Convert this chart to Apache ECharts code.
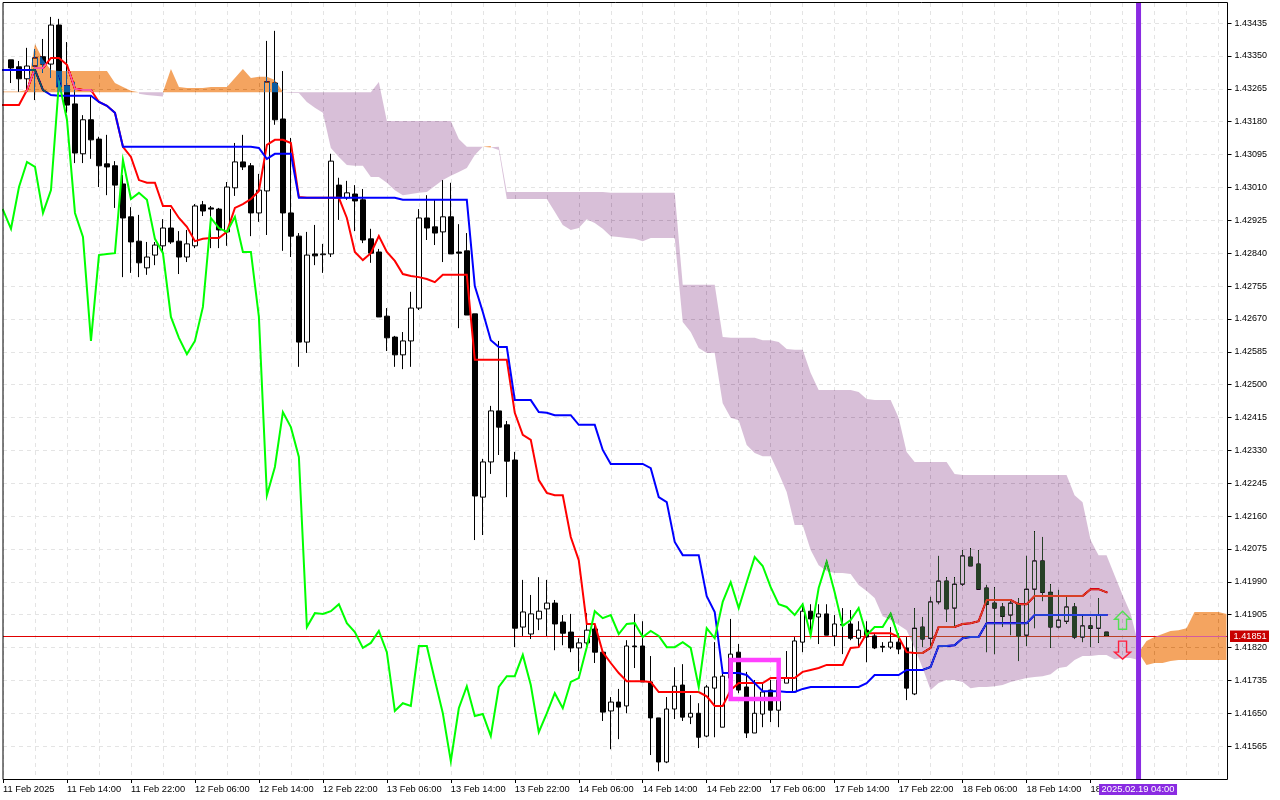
<!DOCTYPE html>
<html>
<head>
<meta charset="utf-8">
<style>html,body{margin:0;padding:0;background:#fff}#c{width:1280px;height:800px}</style>
<script src="https://cdn.jsdelivr.net/npm/echarts@6/dist/echarts.min.js"></script>
</head>
<body>
<div id="c"></div>
<script>
const tickLabels = ['11 Feb 2025','11 Feb 14:00','11 Feb 22:00','12 Feb 06:00','12 Feb 14:00','12 Feb 22:00','13 Feb 06:00','13 Feb 14:00','13 Feb 22:00','14 Feb 06:00','14 Feb 14:00','14 Feb 22:00','17 Feb 06:00','17 Feb 14:00','17 Feb 22:00','18 Feb 06:00','18 Feb 14:00','18 Feb 22:00'];
const priceTicks = [1.41565,1.41650,1.41735,1.41820,1.41905,1.41990,1.42075,1.42160,1.42245,1.42330,1.42415,1.42500,1.42585,1.42670,1.42755,1.42840,1.42925,1.43010,1.43095,1.43180,1.43265,1.43350,1.43435];
const lastPrice = 1.41851;
const markerLabel = '2025.02.19 04:00';
const slotCount = 154;

const opens = [null,1.43340,1.43322,1.43291,1.43324,1.43348,1.43329,1.43430,1.43273,1.43226,1.43097,1.43185,1.43135,1.43071,1.43066,1.43019,1.42934,1.42871,1.42802,1.42835,1.42859,1.42905,1.42871,1.42830,1.42859,1.42965,1.42957,1.42954,1.42895,1.43009,1.43076,1.43066,1.42944,1.43001,1.43280,1.43187,1.42944,1.42884,1.42610,1.42838,1.42836,1.42838,1.43016,1.42983,1.42993,1.42978,1.42877,1.42843,1.42677,1.42623,1.42577,1.42613,1.42698,1.42931,1.42908,1.42895,1.42934,1.42843,1.42846,1.42683,1.42209,1.42300,1.42432,1.42396,1.42305,1.41873,1.41855,1.41894,1.41920,1.41935,1.41886,1.41860,1.41819,1.41832,1.41868,1.41808,1.41656,1.41679,1.41669,1.41824,1.41824,1.41731,1.41638,1.41524,1.41661,1.41723,1.41640,1.41650,1.41591,1.41715,1.41614,1.41741,1.41808,1.41718,1.41599,1.41648,1.41710,1.41658,1.41728,1.41705,1.41834,1.41914,1.41899,1.41907,1.41850,1.41878,1.41881,1.41844,1.41865,1.41850,1.41823,1.41821,1.41834,1.41819,1.41700,1.41873,1.41844,1.41938,1.41992,1.41922,1.41984,1.42054,1.42036,1.41974,1.41935,1.41925,1.41904,1.41932,1.41852,1.41971,1.42044,1.41963,1.41873,1.41888,1.41925,1.41847,1.41876,1.41870,1.41860];
const closes = [null,1.43319,1.43291,1.43324,1.43345,1.43329,1.43430,1.43270,1.43223,1.43099,1.43185,1.43133,1.43066,1.43063,1.43016,1.42931,1.42869,1.42815,1.42830,1.42861,1.42905,1.42869,1.42830,1.42864,1.42962,1.42949,1.42954,1.42900,1.43011,1.43076,1.43063,1.42944,1.43003,1.43283,1.43185,1.42944,1.42884,1.42610,1.42835,1.42833,1.42838,1.43078,1.42983,1.42996,1.42975,1.42874,1.42840,1.42675,1.42621,1.42577,1.42613,1.42698,1.42931,1.42905,1.42892,1.42934,1.42838,1.42840,1.42680,1.42212,1.42300,1.42432,1.42390,1.42302,1.41870,1.41912,1.41907,1.41914,1.41935,1.41881,1.41857,1.41819,1.41832,1.41865,1.41808,1.41653,1.41679,1.41666,1.41824,1.41822,1.41731,1.41638,1.41524,1.41661,1.41720,1.41640,1.41650,1.41588,1.41718,1.41744,1.41746,1.41803,1.41710,1.41599,1.41650,1.41705,1.41658,1.41736,1.41741,1.41837,1.41914,1.41894,1.41907,1.41852,1.41881,1.41880,1.41844,1.41865,1.41847,1.41819,1.41821,1.41834,1.41816,1.41715,1.41870,1.41842,1.41938,1.41992,1.41920,1.41984,1.42057,1.42031,1.41971,1.41932,1.41922,1.41901,1.41935,1.41850,1.41971,1.42044,1.41963,1.41873,1.41891,1.41925,1.41847,1.41876,1.41870,1.41904,1.41851];
const lows = [null,1.43280,1.43257,1.43257,1.43236,1.43306,1.43293,1.43249,1.43203,1.43073,1.43073,1.43084,1.43011,1.42990,1.42957,1.42778,1.42789,1.42778,1.42784,1.42809,1.42838,1.42864,1.42786,1.42817,1.42853,1.42936,1.42853,1.42853,1.42859,1.42988,1.43055,1.42884,1.42921,1.42887,1.43172,1.42846,1.42830,1.42546,1.42582,1.42809,1.42789,1.42830,1.42926,1.42978,1.42897,1.42866,1.42815,1.42675,1.42587,1.42546,1.42540,1.42546,1.42693,1.42874,1.42861,1.42817,1.42838,1.42646,1.42680,1.42098,1.42111,1.42269,1.42318,1.42209,1.41821,1.41850,1.41842,1.41865,1.41850,1.41813,1.41826,1.41808,1.41759,1.41826,1.41780,1.41630,1.41557,1.41583,1.41650,1.41767,1.41731,1.41542,1.41500,1.41521,1.41635,1.41630,1.41622,1.41560,1.41588,1.41588,1.41614,1.41736,1.41702,1.41586,1.41599,1.41614,1.41627,1.41614,1.41728,1.41705,1.41808,1.41852,1.41829,1.41852,1.41824,1.41803,1.41839,1.41819,1.41782,1.41816,1.41808,1.41816,1.41803,1.41684,1.41697,1.41821,1.41819,1.41932,1.41886,1.41873,1.41979,1.42031,1.41971,1.41808,1.41803,1.41873,1.41852,1.41785,1.41824,1.41870,1.41940,1.41819,1.41870,1.41881,1.41842,1.41834,1.41821,1.41832,1.41851];
const highs = [null,1.43340,1.43337,1.43371,1.43368,1.43394,1.43451,1.43446,1.43386,1.43283,1.43197,1.43249,1.43141,1.43146,1.43078,1.43042,1.42959,1.42939,1.42869,1.42869,1.42928,1.42954,1.42897,1.42900,1.42967,1.42975,1.42962,1.42957,1.43024,1.43125,1.43146,1.43073,1.43045,1.43389,1.43415,1.43311,1.43138,1.42892,1.42895,1.42913,1.42864,1.43097,1.43035,1.43027,1.43016,1.43006,1.42903,1.42851,1.42698,1.42626,1.42636,1.42740,1.42954,1.42990,1.42978,1.43029,1.43022,1.42915,1.42892,1.42683,1.42308,1.42445,1.42613,1.42406,1.42326,1.41995,1.41956,1.42002,1.41995,1.41943,1.41904,1.41907,1.41844,1.41909,1.41878,1.41808,1.41692,1.41713,1.41839,1.41907,1.41888,1.41798,1.41638,1.41692,1.41769,1.41777,1.41697,1.41676,1.41723,1.41834,1.41767,1.41894,1.41829,1.41757,1.41736,1.41728,1.41736,1.41741,1.41811,1.41847,1.41935,1.41932,1.41932,1.41932,1.41904,1.41922,1.41917,1.41888,1.41888,1.41857,1.41834,1.41873,1.41857,1.41847,1.41922,1.41899,1.41951,1.42057,1.42002,1.42002,1.42072,1.42077,1.42072,1.41982,1.41976,1.41935,1.41943,1.41948,1.42057,1.42121,1.42106,1.41984,1.41969,1.41951,1.41935,1.41901,1.41899,1.41948,1.41860];

const tenkan = [1.43223,1.43223,1.43223,1.43262,1.43319,1.43319,1.43345,1.43345,1.43327,1.43265,1.43262,1.43262,1.43231,1.43221,1.43203,1.43115,1.43089,1.43029,1.43022,1.43022,1.42962,1.42962,1.42931,1.42908,1.42871,1.42877,1.42879,1.42879,1.42895,1.42957,1.42967,1.42980,1.43001,1.43120,1.43133,1.43133,1.43125,1.42985,1.42983,1.42983,1.42983,1.42983,1.42983,1.42931,1.42843,1.42822,1.42840,1.42884,1.42843,1.42820,1.42786,1.42781,1.42778,1.42773,1.42765,1.42784,1.42784,1.42784,1.42784,1.42564,1.42564,1.42564,1.42564,1.42564,1.42427,1.42370,1.42357,1.42253,1.42220,1.42214,1.42214,1.42106,1.42046,1.41881,1.41881,1.41808,1.41780,1.41754,1.41733,1.41733,1.41733,1.41731,1.41705,1.41705,1.41705,1.41705,1.41705,1.41705,1.41694,1.41669,1.41669,1.41710,1.41728,1.41728,1.41728,1.41728,1.41741,1.41741,1.41741,1.41741,1.41757,1.41762,1.41767,1.41775,1.41775,1.41775,1.41819,1.41821,1.41857,1.41857,1.41857,1.41857,1.41847,1.41808,1.41806,1.41806,1.41819,1.41873,1.41873,1.41873,1.41881,1.41883,1.41888,1.41943,1.41943,1.41943,1.41943,1.41932,1.41932,1.41953,1.41953,1.41953,1.41953,1.41953,1.41953,1.41953,1.41971,1.41971,1.41963];
const kijun = [1.43314,1.43314,1.43314,1.43314,1.43314,1.43262,1.43249,1.43247,1.43247,1.43247,1.43247,1.43247,1.43231,1.43221,1.43203,1.43115,1.43115,1.43115,1.43115,1.43115,1.43115,1.43115,1.43115,1.43115,1.43115,1.43115,1.43115,1.43115,1.43115,1.43115,1.43115,1.43115,1.43112,1.43084,1.43097,1.43097,1.43097,1.42983,1.42983,1.42983,1.42983,1.42983,1.42983,1.42983,1.42983,1.42983,1.42983,1.42983,1.42983,1.42983,1.42978,1.42978,1.42978,1.42978,1.42978,1.42978,1.42978,1.42978,1.42978,1.42755,1.42688,1.42615,1.42597,1.42597,1.42460,1.42460,1.42460,1.42429,1.42427,1.42421,1.42421,1.42421,1.42396,1.42396,1.42396,1.42331,1.42295,1.42295,1.42295,1.42295,1.42295,1.42284,1.42209,1.42196,1.42093,1.42059,1.42059,1.42059,1.41953,1.41912,1.41754,1.41754,1.41754,1.41749,1.41728,1.41707,1.41707,1.41707,1.41705,1.41705,1.41713,1.41718,1.41718,1.41718,1.41718,1.41718,1.41718,1.41718,1.41728,1.41749,1.41749,1.41749,1.41749,1.41762,1.41762,1.41762,1.41770,1.41824,1.41824,1.41826,1.41844,1.41847,1.41847,1.41883,1.41883,1.41883,1.41883,1.41883,1.41883,1.41904,1.41904,1.41904,1.41904,1.41904,1.41904,1.41904,1.41904,1.41904,1.41904];
const chikou = [1.42952,1.42903,1.43011,1.43076,1.43063,1.42944,1.43003,1.43283,1.43185,1.42944,1.42882,1.42613,1.42835,1.42838,1.42840,1.43081,1.42980,1.42996,1.42978,1.42877,1.42840,1.42675,1.42621,1.42579,1.42613,1.42701,1.42931,1.42905,1.42895,1.42934,1.42843,1.42843,1.42675,1.42214,1.42287,1.42429,1.42390,1.42313,1.41873,1.41909,1.41907,1.41914,1.41932,1.41883,1.41860,1.41819,1.41832,1.41863,1.41808,1.41656,1.41676,1.41669,1.41824,1.41824,1.41736,1.41650,1.41526,1.41663,1.41720,1.41643,1.41648,1.41591,1.41718,1.41746,1.41746,1.41801,1.41723,1.41601,1.41650,1.41702,1.41663,1.41731,1.41741,1.41821,1.41914,1.41896,1.41904,1.41855,1.41881,1.41883,1.41847,1.41863,1.41850,1.41821,1.41821,1.41834,1.41819,1.41718,1.41870,1.41844,1.41938,1.41989,1.41922,1.41989,1.42054,1.42031,1.41976,1.41932,1.41925,1.41904,1.41932,1.41852,1.41974,1.42041,1.41963,1.41876,1.41891,1.41922,1.41852,1.41873,1.41873,1.41907,1.41847];
const senkouA = [1.43258,1.43258,1.43258,1.43262,1.43381,1.43340,1.43314,1.43311,1.43311,1.43311,1.43311,1.43311,1.43311,1.43311,1.43280,1.43270,1.43260,1.43252,1.43249,1.43247,1.43245,1.43316,1.43270,1.43267,1.43267,1.43267,1.43270,1.43270,1.43270,1.43293,1.43316,1.43293,1.43296,1.43296,1.43288,1.43257,1.43254,1.43254,1.43231,1.43216,1.43203,1.43112,1.43089,1.43068,1.43066,1.43066,1.43037,1.43037,1.43022,1.43003,1.42990,1.42993,1.42996,1.42998,1.43014,1.43029,1.43040,1.43050,1.43060,1.43094,1.43115,1.43117,1.43107,1.42980,1.42980,1.42980,1.42980,1.42980,1.42980,1.42947,1.42913,1.42900,1.42905,1.42928,1.42918,1.42903,1.42884,1.42882,1.42879,1.42877,1.42871,1.42879,1.42879,1.42879,1.42879,1.42662,1.42636,1.42595,1.42582,1.42582,1.42452,1.42414,1.42408,1.42344,1.42323,1.42315,1.42315,1.42271,1.42222,1.42137,1.42137,1.42072,1.42033,1.42018,1.42013,1.42013,1.42010,1.41982,1.41966,1.41948,1.41901,1.41891,1.41878,1.41865,1.41819,1.41767,1.41710,1.41728,1.41736,1.41736,1.41731,1.41715,1.41718,1.41718,1.41720,1.41723,1.41731,1.41736,1.41741,1.41744,1.41746,1.41751,1.41767,1.41770,1.41788,1.41798,1.41798,1.41801,1.41801,1.41790,1.41793,1.41793,1.41788,1.41837,1.41847,1.41855,1.41863,1.41865,1.41870,1.41912,1.41912,1.41912,1.41912,1.41907];
const senkouB = [1.43256,1.43256,1.43256,1.43256,1.43256,1.43256,1.43256,1.43256,1.43256,1.43256,1.43256,1.43256,1.43256,1.43256,1.43256,1.43256,1.43256,1.43256,1.43256,1.43256,1.43256,1.43256,1.43256,1.43256,1.43256,1.43256,1.43256,1.43256,1.43256,1.43256,1.43256,1.43256,1.43256,1.43256,1.43256,1.43256,1.43256,1.43256,1.43256,1.43256,1.43256,1.43256,1.43256,1.43256,1.43256,1.43256,1.43256,1.43283,1.43182,1.43182,1.43182,1.43182,1.43182,1.43182,1.43182,1.43182,1.43182,1.43135,1.43115,1.43115,1.43115,1.43113,1.43115,1.42998,1.42998,1.42998,1.42998,1.42998,1.42998,1.42998,1.42998,1.42998,1.42998,1.42998,1.42998,1.42998,1.42996,1.42996,1.42996,1.42996,1.42996,1.42996,1.42996,1.42996,1.42996,1.42758,1.42758,1.42758,1.42758,1.42758,1.42623,1.42621,1.42621,1.42621,1.42621,1.42615,1.42615,1.42610,1.42592,1.42590,1.42590,1.42530,1.42486,1.42486,1.42486,1.42486,1.42486,1.42481,1.42463,1.42460,1.42460,1.42460,1.42414,1.42326,1.42300,1.42300,1.42300,1.42300,1.42300,1.42269,1.42266,1.42266,1.42266,1.42266,1.42266,1.42266,1.42266,1.42266,1.42266,1.42266,1.42266,1.42266,1.42266,1.42266,1.42214,1.42196,1.42098,1.42059,1.42059,1.42007,1.41956,1.41909,1.41826,1.41775,1.41780,1.41780,1.41785,1.41788,1.41788,1.41788,1.41788,1.41788,1.41788,1.41788];

// annotations
const boxStart = 91, boxEnd = 97, boxHigh = 1.41788, boxLow = 1.41687;
const markerIndex = 142;
const arrowIndex = 140, arrowUpTip = 1.41914, arrowDownTip = 1.41790;

const categories = Array.from({length: slotCount}, (_, i) => i);
const candleData = opens.map((o, i) => o === null ? '-' : [o, closes[i], lows[i], highs[i]]);

const FONT = '"Liberation Sans", Arial, sans-serif';
const GRID = '#e4e4e4';

// Inverted colours: painted with the "difference" blend they give the cloud colours on white
const CLOUD_UP = '#0b5b9f';   // shows as sandy orange
const CLOUD_DOWN = '#274027'; // shows as thistle

function cloudRuns(api) {
  const runs = [];
  let cur = null;
  const n = senkouA.length;
  for (let i = 0; i < n; i++) {
    const up = senkouA[i] >= senkouB[i];
    if (!cur || cur.up !== up) {
      if (cur) {
        const a0 = senkouA[i - 1], b0 = senkouB[i - 1], a1 = senkouA[i], b1 = senkouB[i];
        const t = (a0 - b0) / ((a0 - b0) - (a1 - b1));
        const mid = api.coord([i - 1 + t, a0 + (a1 - a0) * t]);
        cur.top.push(mid); cur = {up, top: [mid], bot: []};
      } else cur = {up, top: [], bot: []};
      runs.push(cur);
    }
    cur.top.push(api.coord([i, senkouA[i]]));
    cur.bot.push(api.coord([i, senkouB[i]]));
  }
  return runs;
}

function renderCloud(params, api) {
  if (params.dataIndex !== 0) return;
  return {
    type: 'group',
    children: cloudRuns(api).map(r => ({
      type: 'polygon',
      silent: true,
      shape: {points: r.top.concat(r.bot.slice().reverse())},
      style: {fill: r.up ? CLOUD_UP : CLOUD_DOWN}
    }))
  };
}

function renderPriceLine(params, api) {
  const cs = params.coordSys;
  const y = Math.round(api.coord([0, lastPrice])[1]) + 0.5;
  return {type: 'line', shape: {x1: cs.x, y1: y, x2: cs.x + cs.width + 1, y2: y}, style: {stroke: '#e00000', lineWidth: 1}};
}

function renderOverlay(params, api) {
  const cs = params.coordSys;
  const gridRight = cs.x + cs.width, gridBottom = cs.y + cs.height;
  const mx = api.coord([markerIndex, lastPrice])[0];
  const py = Math.round(api.coord([0, lastPrice])[1]) + 0.5;
  const b0 = api.coord([boxStart, boxHigh]), b1 = api.coord([boxEnd, boxLow]);
  const ax = api.coord([arrowIndex, arrowUpTip]);
  const dx = api.coord([arrowIndex, arrowDownTip]);
  const up = [[0,0],[8,8],[4,8],[4,18],[-4,18],[-4,8],[-8,8]].map(p => [ax[0] + p[0], ax[1] + p[1]]);
  const down = [[0,0],[8,-7],[4,-7],[4,-18],[-4,-18],[-4,-7],[-8,-7]].map(p => [dx[0] + p[0], dx[1] + p[1]]);
  return {
    type: 'group',
    children: [
      {type: 'rect', shape: {x: cs.x, y: 2.5, width: cs.width + 1, height: 777}, style: {fill: 'none', stroke: '#000', lineWidth: 1}},
      {type: 'polygon', shape: {points: up}, style: {fill: 'none', stroke: '#52e052', lineWidth: 1.4}},
      {type: 'polygon', shape: {points: down}, style: {fill: 'none', stroke: '#ff1f3c', lineWidth: 1.4}},
      {type: 'rect', shape: {x: b0[0], y: b0[1], width: b1[0] - b0[0], height: b1[1] - b0[1]},
        style: {fill: 'none', stroke: '#ff40ff', lineWidth: 4.5}},
      {type: 'rect', shape: {x: mx - 2.5, y: 3, width: 5, height: 776}, style: {fill: '#8a2be2'}},
      {type: 'rect', shape: {x: mx - 39.5, y: gridBottom + 5, width: 78, height: 11}, style: {fill: '#8a2be2'}},
      {type: 'text', style: {text: markerLabel, x: mx - 0.5, y: gridBottom + 10.5, fill: '#fff', font: '9.4px ' + FONT, textAlign: 'center', textVerticalAlign: 'middle'}},
      {type: 'rect', shape: {x: gridRight + 3.5, y: py - 6, width: 39, height: 11.5}, style: {fill: '#c80000'}},
      {type: 'text', style: {text: lastPrice.toFixed(5), x: gridRight + 7, y: py, fill: '#fff', font: '9.2px ' + FONT, textAlign: 'left', textVerticalAlign: 'middle'}}
    ]
  };
}

const lineOf = (data, color, z) => ({
  type: 'line', data, symbol: 'none', silent: true, z,
  lineStyle: {color, width: 2, cap: 'square', join: 'miter'}
});

const chart = echarts.init(document.getElementById('c'), null, {renderer: 'canvas', devicePixelRatio: 1});
chart.setOption({
  animation: false,
  backgroundColor: '#ffffff',
  tooltip: {show: false},
  grid: {left: 2.5, top: 3, width: 1224, height: 776, show: false, containLabel: false},
  xAxis: {
    type: 'category',
    data: categories,
    boundaryGap: false,
    axisLine: {show: false},
    axisTick: {show: true, length: 4, interval: i => i % 8 === 0 && i / 8 < tickLabels.length, lineStyle: {color: '#000'}},
    splitLine: {show: true, interval: i => i % 4 === 0, lineStyle: {color: GRID, type: [4, 4], width: 1}},
    axisLabel: {
      interval: i => i % 8 === 0 && i / 8 < tickLabels.length,
      formatter: (v, i) => tickLabels[i / 8] || '',
      color: '#000', fontFamily: FONT, fontSize: 9.3, align: 'left', margin: 5, padding: [1, 0, 0, 0]
    }
  },
  yAxis: {
    type: 'value',
    position: 'right',
    offset: 1,
    min: 1.4148,
    max: 1.43487,
    scale: true,
    axisLine: {show: false, onZero: false},
    axisTick: {show: true, length: 4, customValues: priceTicks, lineStyle: {color: '#000'}},
    splitLine: {show: true, lineStyle: {color: GRID, type: [4, 4], width: 1}},
    axisLabel: {
      customValues: priceTicks,
      formatter: v => v.toFixed(5),
      color: '#000', fontFamily: FONT, fontSize: 9, margin: 7
    }
  },
  series: [
    {type: 'custom', renderItem: renderPriceLine, data: [[0, lastPrice]], silent: true, z: 2},
    {
      type: 'candlestick', data: candleData, barWidth: 5, silent: true, z: 3,
      itemStyle: {color: '#ffffff', color0: '#000000', borderColor: '#000000', borderColor0: '#000000', borderWidth: 1}
    },
    lineOf(tenkan, '#ff0000', 4),
    lineOf(kijun, '#0000ff', 5),
    lineOf(chikou, '#00ff00', 6),
    {type: 'custom', renderItem: renderCloud, blendMode: 'difference', data: senkouA.map((a, i) => [i, a, senkouB[i]]), silent: true, z: 8},
    {type: 'custom', renderItem: renderOverlay, data: [[markerIndex, lastPrice]], silent: true, z: 10}
  ]
});
</script>
</body>
</html>
